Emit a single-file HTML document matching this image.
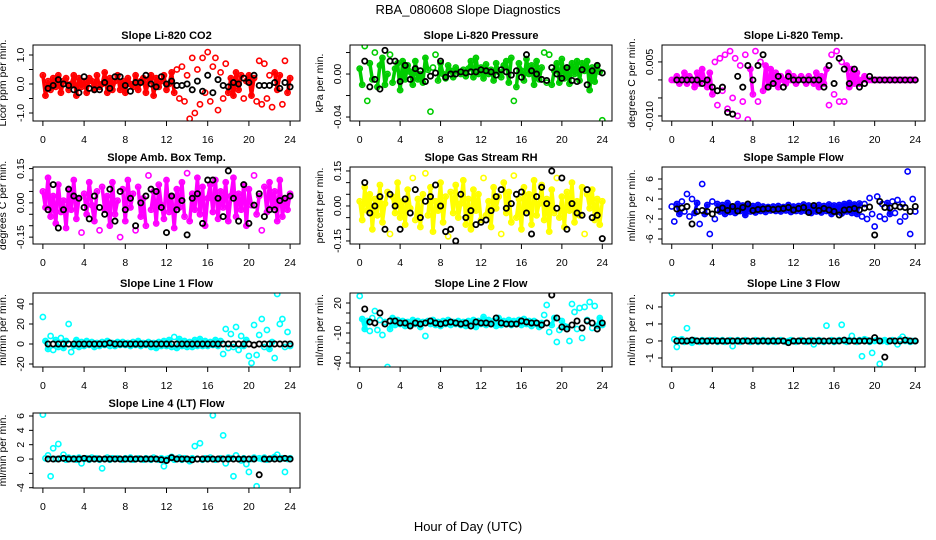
<!DOCTYPE html>
<html><head><meta charset="utf-8">
<style>
html,body{margin:0;padding:0;background:#fff;}
svg{display:block;font-family:"Liberation Sans",Arial,sans-serif;}
</style></head>
<body>
<svg id="chart" width="936" height="540" viewBox="0 0 936 540" xmlns="http://www.w3.org/2000/svg">
<rect x="0" y="0" width="936" height="540" fill="#fff"/>
<text x="468" y="14" font-size="13" text-anchor="middle">RBA_080608  Slope Diagnostics</text>
<text x="468" y="531" font-size="13" text-anchor="middle">Hour of Day (UTC)</text>
</svg>
<script>
const xTicks=[0,4,8,12,16,20,24];
const co2Vals=[0.3,-0.4,0.1,-0.2,0.2,-0.1,0.3,-0.3,0.1,0.2,-0.2,0.0,0.3,-0.4,0.2,-0.1,0.1,-0.3,0.2,0.1,-0.2,0.3,-0.1,0.0,0.4,-0.3,0.2,-0.2,0.1,0.3,-0.2,0.1,-0.3,0.2,0.0,-0.1,0.3,-0.2,0.1,0.2,-0.3,0.1,0.3,-0.4,0.2,-0.1,0.1,0.3,-0.2,0.0,0.4,-0.3,0.5,-0.5,0.6,-0.6,0.3,-1.2,0.9,-1.0,0.5,-0.7,0.9,-0.3,1.1,-0.6,0.6,0.9,-0.9,0.4,-0.5,0.7,-0.3,0.2,-0.4,0.4,-0.2,0.3,-0.5,0.1,0.3,-0.4,0.2,-0.6,0.8,-0.7,0.7,-0.5,0.3,-0.8,0.4,-0.2,0.3,-0.7,0.8,-0.3,0.2];
const co2Black=[-0.15,-0.05,0.15,0.0,-0.05,-0.2,-0.3,0.25,-0.15,-0.2,-0.2,0.05,-0.15,0.25,0.25,-0.05,-0.25,0.05,0.05,0.3,0.0,-0.1,0.25,0.0,0.1,-0.05,-0.05,0.0,-0.2,0.1,-0.25,0.3,-0.3,0.15,-0.05,-0.1,0.05,0.0,0.2,0.05,0.3,-0.05,-0.05,-0.05,0.05,-0.15,0.05,-0.1];
const presVals=[0.005,-0.01,0.026,-0.025,0.01,-0.005,0.02,-0.012,0.008,0.015,-0.01,0.0,0.018,-0.008,0.005,0.01,-0.015,0.012,-0.005,0.008,0.002,-0.01,0.012,-0.005,0.0,-0.008,0.015,0.004,-0.035,0.006,0.018,-0.006,0.01,0.0,-0.004,0.008,0.003,-0.003,0.006,0.002,0.0,0.004,-0.002,0.005,0.012,-0.003,0.015,0.0,0.006,-0.004,0.009,0.0,0.004,-0.006,0.01,0.002,-0.003,0.008,0.012,-0.008,0.015,-0.025,-0.012,0.01,0.003,-0.006,0.014,0.0,0.008,-0.01,0.012,-0.005,0.006,0.02,-0.008,0.018,-0.01,0.003,0.01,-0.008,0.014,-0.004,0.006,-0.009,0.01,0.0,0.012,-0.006,0.01,0.003,0.012,-0.015,0.006,-0.007,0.008,0.002,-0.043];
const presBlack=[0.012,-0.012,-0.005,-0.014,0.022,0.012,0.012,-0.007,0.008,-0.005,0.005,0.003,-0.007,-0.002,0.001,0.012,-0.003,0.0,0.0,0.002,0.001,0.002,0.002,0.004,0.003,0.002,-0.001,0.004,0.002,-0.001,0.003,-0.003,0.018,0.003,0.0,-0.005,-0.006,0.006,0.0,-0.004,0.006,-0.006,-0.007,0.004,-0.01,0.003,0.008,0.001];
const tempVals=[0.0,0.0,0.001,-0.001,0.0,0.002,-0.001,0.001,0.0,-0.002,0.002,-0.001,0.003,0.0,-0.002,0.002,-0.004,0.005,-0.007,0.006,-0.003,0.007,-0.008,0.008,-0.005,0.006,-0.01,0.004,-0.006,0.007,-0.011,0.003,-0.004,0.008,-0.006,0.005,-0.003,0.004,-0.002,0.003,-0.001,0.002,-0.002,0.001,0.0,-0.001,0.002,0.0,0.001,-0.001,0.0,0.001,0.0,-0.001,0.001,0.0,-0.001,0.002,-0.002,0.001,-0.001,0.003,-0.007,0.007,-0.004,0.008,-0.006,0.005,-0.006,0.004,-0.002,0.003,-0.001,0.002,-0.001,0.0,0.001,0.0,0.0,0.0,0.0,0.0,0.0,0.0,0.0,0.0,0.0,0.0,0.0,0.0,0.0,0.0,0.0,0.0,0.0,0.0,0.0];
const tempBlack=[0,0,0,0,0,-0.001,0,-0.002,-0.003,-0.002,-0.009,-0.0095,0.001,-0.002,0.004,0.0,0.004,0.007,-0.002,-0.001,0.001,-0.002,0.001,0.0,0.0,0.0,0.0,0.0,0.0,-0.002,0.004,-0.001,0.006,0.003,-0.001,0.003,-0.002,-0.001,0.001,0.0,0.0,0.0,0.0,0.0,0.0,0.0,0.0,0.0];
const ambVals=[0.05,-0.02,0.11,-0.06,0.03,-0.09,0.08,-0.04,0.01,-0.11,0.06,-0.03,0.1,-0.07,0.02,-0.13,0.04,-0.05,0.09,-0.01,-0.08,0.05,-0.12,0.07,-0.03,0.03,-0.1,0.09,-0.05,0.01,-0.15,0.06,-0.08,0.1,-0.02,0.04,-0.12,0.07,-0.06,0.02,-0.1,0.12,-0.03,0.05,-0.09,0.08,-0.01,-0.07,0.1,-0.04,0.03,-0.11,0.06,-0.02,0.09,-0.06,0.13,-0.08,0.04,-0.03,0.11,-0.05,0.07,-0.1,0.02,0.08,-0.04,0.1,-0.07,0.05,-0.02,0.09,-0.08,0.03,0.11,-0.06,0.04,-0.03,0.08,-0.1,0.06,-0.01,0.12,-0.05,0.03,-0.12,0.07,-0.04,0.09,-0.02,0.05,-0.08,0.1,-0.06,0.02,-0.03,0.04];
const ambBlack=[-0.03,0.08,-0.11,-0.03,0.06,0.03,0.02,-0.02,-0.07,0.03,-0.02,-0.05,0.06,-0.08,0.05,-0.03,0.02,-0.1,0.0,0.03,0.06,0.05,-0.02,-0.13,0.03,-0.03,0.01,-0.14,0.02,0.04,-0.09,0.1,0.1,0.02,-0.06,0.14,0.02,-0.08,0.08,-0.09,-0.01,0.04,-0.06,-0.03,-0.03,0.01,0.02,0.03];
const rhVals=[0.02,-0.06,0.08,-0.02,0.05,-0.1,0.03,-0.04,0.09,-0.07,0.01,0.06,-0.12,0.04,-0.03,0.1,-0.05,0.02,-0.08,0.07,-0.01,0.12,-0.06,0.03,-0.09,0.05,0.14,-0.04,0.08,-0.11,0.02,-0.02,0.1,-0.07,0.04,-0.13,0.06,-0.03,0.09,-0.05,0.01,0.11,-0.08,0.03,-0.1,0.07,-0.02,0.05,-0.06,0.12,-0.04,0.02,-0.09,0.08,-0.01,0.04,-0.12,0.1,-0.03,0.06,-0.07,0.13,-0.05,0.03,-0.1,0.08,-0.02,0.05,-0.08,0.11,-0.04,0.01,0.09,-0.06,0.03,-0.11,0.07,-0.03,0.12,-0.05,0.04,-0.09,0.06,-0.02,0.1,-0.07,0.02,-0.04,0.08,-0.12,0.05,-0.01,0.07,-0.06,0.03,-0.08,0.02];
const rhBlack=[0.1,-0.03,0.0,0.04,-0.1,0.05,0.0,-0.1,0.03,-0.03,0.07,-0.05,0.02,0.04,0.09,0.0,-0.11,-0.1,-0.15,0.05,-0.05,-0.02,-0.08,-0.07,-0.06,-0.02,0.04,0.07,-0.01,0.01,0.05,0.06,-0.03,-0.12,0.04,0.08,0.01,0.15,-0.01,0.12,-0.1,0.01,-0.03,-0.04,0.07,-0.05,-0.04,-0.14];
const sampVals=[0.5,-2.5,1.0,-1.0,1.5,-0.5,3.0,-1.5,2.0,-0.8,1.2,-3.0,5.0,-1.0,0.8,-5.0,1.5,-2.0,1.0,-0.5,0.8,-1.0,1.2,-0.6,0.5,-0.8,1.0,-0.4,0.7,-1.2,0.9,-0.5,0.6,-0.7,0.8,-0.4,0.5,-0.6,0.4,-0.3,0.5,-0.4,0.6,-0.5,0.4,-0.3,0.8,-0.6,0.5,-0.4,0.6,-0.5,0.9,-0.4,0.7,-0.8,0.6,-0.5,0.8,-0.7,0.6,-0.4,0.9,-1.0,0.7,-0.6,0.8,-0.9,1.0,-0.5,1.2,-0.8,0.9,-1.0,1.1,-1.5,1.0,-2.0,2.2,-1.0,-3.5,2.5,-1.5,1.0,-2.0,1.2,-1.0,1.5,-0.8,1.8,-2.5,1.0,-1.5,7.5,-5.0,2.0,-0.5];
const sampBlack=[0,0.2,0.5,-3,-0.5,-0.3,-0.5,-1,-0.2,0.2,-0.3,0.5,-0.4,0.3,1.0,-0.3,-0.1,0.0,0.1,-0.1,0.0,0.1,0.3,-0.2,0.1,0.3,-0.7,0.7,-0.3,0.1,-0.2,-0.5,-1.2,-0.2,-0.1,0.1,-0.2,0.2,0.4,-5.2,1.5,0.3,0.2,0.6,0.4,0.3,-0.5,0.5];
const l1Vals=[27,3,-5,8,-6,4,-3,6,-4,3,20,-8,-2,4,-3,2,-2,3,-1,2,-3,1,-2,2,-1,3,-2,1,-2,2,-1,2,-1,1,-2,2,-1,3,-2,1,-1,2,-3,1,-4,2,-2,3,-2,4,-3,7,-4,5,-2,3,-3,2,-3,4,-2,5,-2,3,-2,2,-1,4,-2,3,-10,15,-4,10,-3,17,-6,8,-2,4,-12,-19,19,-11,9,25,-3,14,-5,2,-14,50,20,25,-3,12,-2];
const l1Black=[0,0,0,0,0,0,0,0,0,0,0,0,1,0,0,0,0,0,0,0,0,0,0,0,0,0,0,0,0,0,0,0,0,0,0,0,0,0,0,0,-1,0,0,0,0,0,0,0];
const l2Vals=[27,4,-6,2,-8,5,12,-7,3,-12,1,-44,-6,5,-2,3,-1,2,-3,1,-2,3,-1,2,-4,1,-13,2,-1,3,-2,1,-3,2,-1,3,-2,1,-1,2,-2,1,-3,2,-1,3,-4,2,-1,6,-2,3,-1,2,-3,5,-2,2,-1,3,-2,2,-1,3,-2,4,-1,2,-3,2,-1,-4,0,8,18,-9,-2,5,-19,-7,2,-3,-4,-18,19,11,-6,15,-15,16,3,21,-5,17,-3,5,-2];
const l2Black=[14,1,0,10,-1,2,2,0,0,-3,0,-1,0,2,0,-1,0,1,0,-1,0,-3,1,0,0,-1,5,0,-1,-1,-1,2,1,0,0,-2,0,28,5,-4,-6,-2,2,-5,2,0,-6,0];
const l3Vals=[2.8,0.1,-0.35,0.05,0.1,-0.05,0.75,0.0,-0.1,0.05,0.0,-0.05,0.05,0.0,-0.05,0.05,0.0,0.05,-0.05,0.0,0.05,-0.05,0.0,0.05,-0.3,0.0,0.05,-0.05,0.0,0.05,0.0,-0.05,0.0,0.05,-0.05,0.0,0.05,0.0,-0.05,0.0,0.05,-0.05,0.0,0.05,0.0,-0.05,0.0,0.05,0.0,-0.05,0.0,0.05,0.0,-0.05,0.0,0.05,-0.2,0.0,0.05,0.0,-0.05,0.9,0.0,0.05,-0.05,0.0,0.05,0.95,0.0,-0.05,0.05,0.3,0.0,-0.05,0.05,-0.9,0.1,0.05,-0.05,-0.7,0.0,0.05,-1.35,0.0,0.05,-0.05,0.0,0.05,0.0,-0.2,0.1,0.25,0.0,0.05,-0.05,0.0,0.0];
const l3Black=[0,0,0,0.05,0,0,0,0,0,0,0,0,0,0,0,0,0,0,0,0,0,0,-0.1,0,0,0,0,0,0,0,0,0,0,0.05,0,0,0,0,0,0.2,0,-0.95,0,0,0,0.05,0,0];
const l4Vals=[6.2,0.1,0.5,-2.4,1.5,0.0,2.1,0.1,0.6,-0.1,0.2,0.0,0.1,-0.1,0.2,-0.6,0.0,0.1,-0.1,0.2,0.0,0.1,-0.1,-1.3,0.0,0.2,-0.1,0.1,0.0,0.1,0.0,-0.1,0.1,0.0,0.2,-0.1,0.0,0.1,0.0,-0.1,0.1,0.0,-0.1,0.2,0.0,-0.1,0.1,-1.0,0.0,0.1,0.3,-0.1,0.0,0.2,-0.1,0.1,0.0,-0.3,0.1,1.8,0.0,2.2,-0.1,0.1,0.0,0.2,6.1,-0.1,0.0,0.1,3.3,-0.6,0.2,0.1,-2.4,0.5,0.0,-0.2,0.1,-0.7,-1.8,0.0,0.2,-3.8,0.1,0.0,0.2,-0.1,0.0,0.1,0.3,0.6,0.0,0.1,-1.8,0.0,0.1];
const l4Black=[0,0,0,0.1,0,0,0,0.1,0,0,0,0,0,0,0,0,0,0,0,0,0,0,-0.1,-0.2,0.2,0,0,0,-0.1,0,0,0,0,0,0,0,0,0,0,0,0,-2.2,0,0,0,0,0.1,0];
const co2Ticks=[-1,-0.5,0,0.5,1], co2Labels=["-1.0","","0.0","","1.0"];
const presTicks=[-0.04,-0.02,0,0.02], presLabels=["-0.04","","0.00",""];
const tempTicks=[-0.01,-0.005,0,0.005], tempLabels=["-0.010","","","0.005"];
const ambTicks=[-0.15,-0.1,-0.05,0,0.05,0.1,0.15], ambLabels=["-0.15","","","0.00","","","0.15"];
const rhTicks=[-0.15,-0.1,-0.05,0,0.05,0.1,0.15], rhLabels=["-0.15","","","0.00","","","0.15"];
const sampTicks=[-6,-4,-2,0,2,4,6], sampLabels=["-6","","-2","","2","","6"];
const l1Ticks=[-20,0,20,40], l1Labels=["-20","0","20","40"];
const l2Ticks=[-40,-30,-20,-10,0,10,20], l2Labels=["-40","","","-10","","","20"];
const l3Ticks=[-1,0,1,2], l3Labels=["-1","0","1","2"];
const l4Ticks=[-4,-2,0,2,4,6], l4Labels=["-4","","0","2","4","6"];

const NS="http://www.w3.org/2000/svg";
const svg=document.getElementById('chart');
const cols=[[33,300],[350,612],[662,925]];
const rows=[[45,121],[167,244],[293,367],[413,488]];
const panels=[
 {key:'co2',title:'Slope Li-820 CO2',ylab:'Licor ppm per min.',c:0,r:0,yl:[-1.276,1.345],v:co2Vals,b:co2Black,col:'#ff0000',t:co2Ticks,tl:co2Labels,band:0.45},
 {key:'pressure',title:'Slope Li-820 Pressure',ylab:'kPa per min.',c:1,r:0,yl:[-0.0437,0.027],v:presVals,b:presBlack,col:'#00cc00',t:presTicks,tl:presLabels,band:0.016},
 {key:'li820-temp',title:'Slope Li-820 Temp.',ylab:'degrees C per min.',c:2,r:0,yl:[-0.0114,0.0097],v:tempVals,b:tempBlack,col:'#ff00ff',t:tempTicks,tl:tempLabels,band:0.0045},
 {key:'amb-box-temp',title:'Slope Amb. Box Temp.',ylab:'degrees C per min.',c:0,r:1,yl:[-0.18,0.157],v:ambVals,b:ambBlack,col:'#ff00ff',t:ambTicks,tl:ambLabels,band:0.11},
 {key:'gas-stream-rh',title:'Slope Gas Stream RH',ylab:'percent per min.',c:1,r:1,yl:[-0.163,0.167],v:rhVals,b:rhBlack,col:'#ffff00',t:rhTicks,tl:rhLabels,band:0.11},
 {key:'sample-flow',title:'Slope Sample Flow',ylab:'ml/min per min.',c:2,r:1,yl:[-7,8.4],v:sampVals,b:sampBlack,col:'#0000ff',t:sampTicks,tl:sampLabels,band:1.3},
 {key:'line1-flow',title:'Slope Line 1 Flow',ylab:'ml/min per min.',c:0,r:2,yl:[-23,51],v:l1Vals,b:l1Black,col:'#00ffff',t:l1Ticks,tl:l1Labels,band:5},
 {key:'line2-flow',title:'Slope Line 2 Flow',ylab:'ml/min per min.',c:1,r:2,yl:[-44,30],v:l2Vals,b:l2Black,col:'#00ffff',t:l2Ticks,tl:l2Labels,band:6},
 {key:'line3-flow',title:'Slope Line 3 Flow',ylab:'ml/min per min.',c:2,r:2,yl:[-1.53,2.82],v:l3Vals,b:l3Black,col:'#00ffff',t:l3Ticks,tl:l3Labels,band:0.12},
 {key:'line4-flow',title:'Slope Line 4 (LT) Flow',ylab:'ml/min per min.',c:0,r:3,yl:[-4.04,6.42],v:l4Vals,b:l4Black,col:'#00ffff',t:l4Ticks,tl:l4Labels,band:0.35}
];
function mk(tag,attrs,parent){const e=document.createElementNS(NS,tag);for(const k in attrs)e.setAttribute(k,attrs[k]);(parent||svg).appendChild(e);return e;}
panels.forEach(p=>{
 const [L,R]=cols[p.c],[T,B]=rows[p.r];
 const xs=h=>L+(h+0.96)/(25.92)*(R-L);
 const ys=v=>B-(v-p.yl[0])/(p.yl[1]-p.yl[0])*(B-T);
 const g=mk('g',{});
 
 
 const cp=mk('clipPath',{id:'cp-'+p.key},g);
 mk('rect',{x:L,y:T,width:R-L,height:B-T},cp);
 const pts=mk('g',{'clip-path':'url(#cp-'+p.key+')'},g);
 
 
 const n=p.v.length;
 const hx=i=>xs(i*24/(n-1));
 for(let i=1;i<n;i++){
  if(Math.abs(p.v[i])<=p.band && Math.abs(p.v[i-1])<=p.band){
   const ln=mk('line',{x1:hx(i-1),y1:ys(p.v[i-1]),x2:hx(i),y2:ys(p.v[i]),stroke:p.col,'stroke-width':3.5,'stroke-linecap':'round'},pts);
   
   
  }
 }
 p.v.forEach((v,i)=>{
  const c=mk('circle',{cx:hx(i),cy:ys(v),r:2.6,fill:'none',stroke:p.col,'stroke-width':1.6},pts);
  
  
 });
 p.b.forEach((v,i)=>{
  const c=mk('circle',{cx:xs((i+1)*0.5),cy:ys(v),r:2.6,fill:'none',stroke:'#000','stroke-width':1.8},pts);
  
  
 });
 const box=mk('rect',{x:L,y:T,width:R-L,height:B-T,fill:'none',stroke:'#000','stroke-width':1},g);
 
 
 const tt=mk('text',{x:(L+R)/2,y:T-6,'font-size':11,'font-weight':'bold','text-anchor':'middle'},g);
 tt.textContent=p.title;
 
 
 xTicks.forEach(h=>{
  const x=xs(h);
  mk('line',{x1:x,x2:x,y1:B,y2:B+5,stroke:'#000'},g);
  const t=mk('text',{x:x,y:B+22,'font-size':10.5,'text-anchor':'middle'},g);
  t.textContent=h;
  
  
 });
 mk('line',{x1:xs(0),x2:xs(24),y1:B,y2:B,stroke:'#000'},g);
 p.t.forEach((v,i)=>{
  const y=ys(v);
  mk('line',{x1:L-4,x2:L,y1:y,y2:y,stroke:'#000'},g);
  if(p.tl[i]){
   const t=mk('text',{x:L-9,y:y,'font-size':10.5,'text-anchor':'middle',transform:'rotate(-90 '+(L-9)+' '+y+')'},g);
   t.textContent=p.tl[i];
   
   
  }
 });
 const yl=mk('text',{x:L-27,y:(T+B)/2,'font-size':10.5,'text-anchor':'middle',transform:'rotate(-90 '+(L-27)+' '+((T+B)/2)+')'},g);
 yl.textContent=p.ylab;
 
 
});
</script>
</body></html>
